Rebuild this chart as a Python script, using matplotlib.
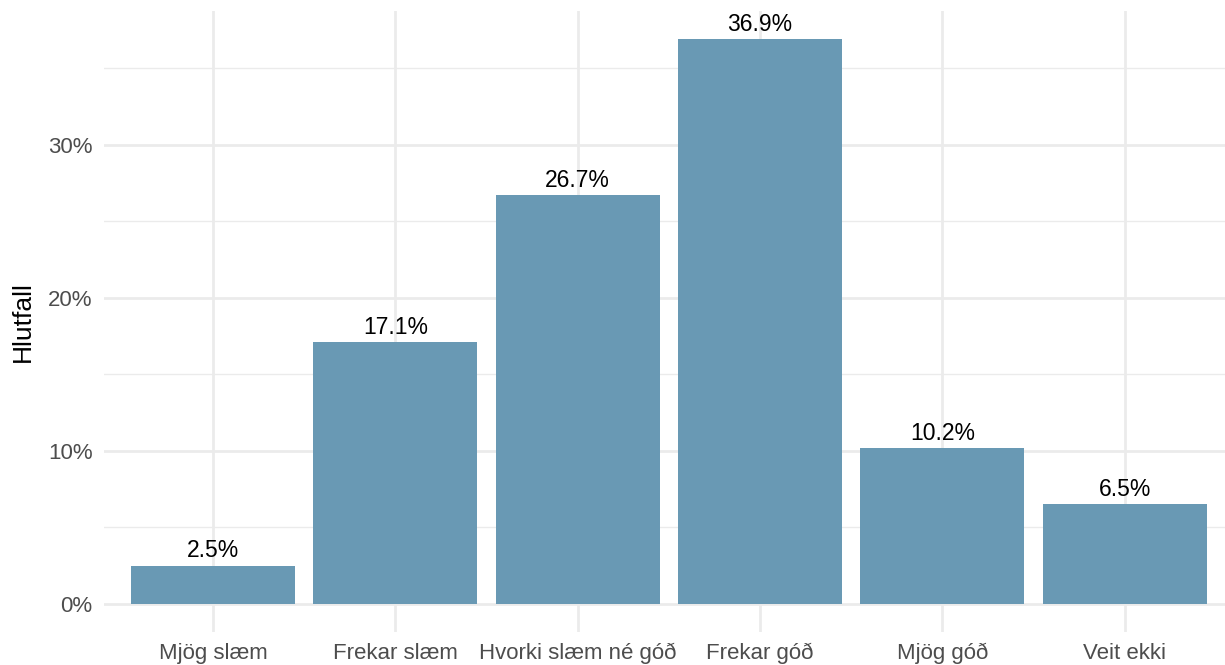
import matplotlib
matplotlib.use("Agg")
import matplotlib.pyplot as plt
from matplotlib.ticker import MultipleLocator, FuncFormatter

categories = ["Mjög slæm", "Frekar slæm", "Hvorki slæm né góð", "Frekar góð", "Mjög góð", "Veit ekki"]
values = [2.5, 17.1, 26.7, 36.9, 10.2, 6.5]
labels = ["2.5%", "17.1%", "26.7%", "36.9%", "10.2%", "6.5%"]

plt.rcParams['font.family'] = ['Liberation Sans', 'DejaVu Sans']

W, H = 1225, 665
fig = plt.figure(figsize=(W/100, H/100), dpi=100)
left, right, top, bottom = 103.6, 1234.0, 11.0, 632.0
ax = fig.add_axes([left/W, (H-bottom)/H, (right-left)/W, (bottom-top)/H])

x = list(range(1, len(categories)+1))
ax.bar(x, values, width=0.9, color="#6999B4", zorder=2)
for xi, v, lab in zip(x, values, labels):
    ax.text(xi, v + 0.2, lab, ha="center", va="bottom", fontsize=16.5, color="black", zorder=3)

ymax = max(values)
ax.set_ylim(-0.05*ymax, 1.05*ymax)
ax.set_xlim(0.4, 6.6)
ax.set_xticks(x)
ax.set_xticklabels(categories)
ax.yaxis.set_major_locator(MultipleLocator(10))
ax.yaxis.set_minor_locator(MultipleLocator(5))
ax.yaxis.set_major_formatter(FuncFormatter(lambda v, p: f"{v:.0f}%"))
ax.grid(which="major", axis="both", color="#EBEBEB", linewidth=2.0, zorder=0)
ax.grid(which="minor", axis="y", color="#EBEBEB", linewidth=1.0, zorder=0)
ax.tick_params(axis="both", which="both", length=0, labelsize=16, labelcolor="#4D4D4D")
ax.tick_params(axis="x", pad=8)
ax.tick_params(axis="y", pad=8)
for s in ax.spines.values():
    s.set_visible(False)
ax.set_axisbelow(True)
ax.set_ylabel("Hlutfall", fontsize=19, color="black", labelpad=9)

fig.savefig("out.png", dpi=100)
